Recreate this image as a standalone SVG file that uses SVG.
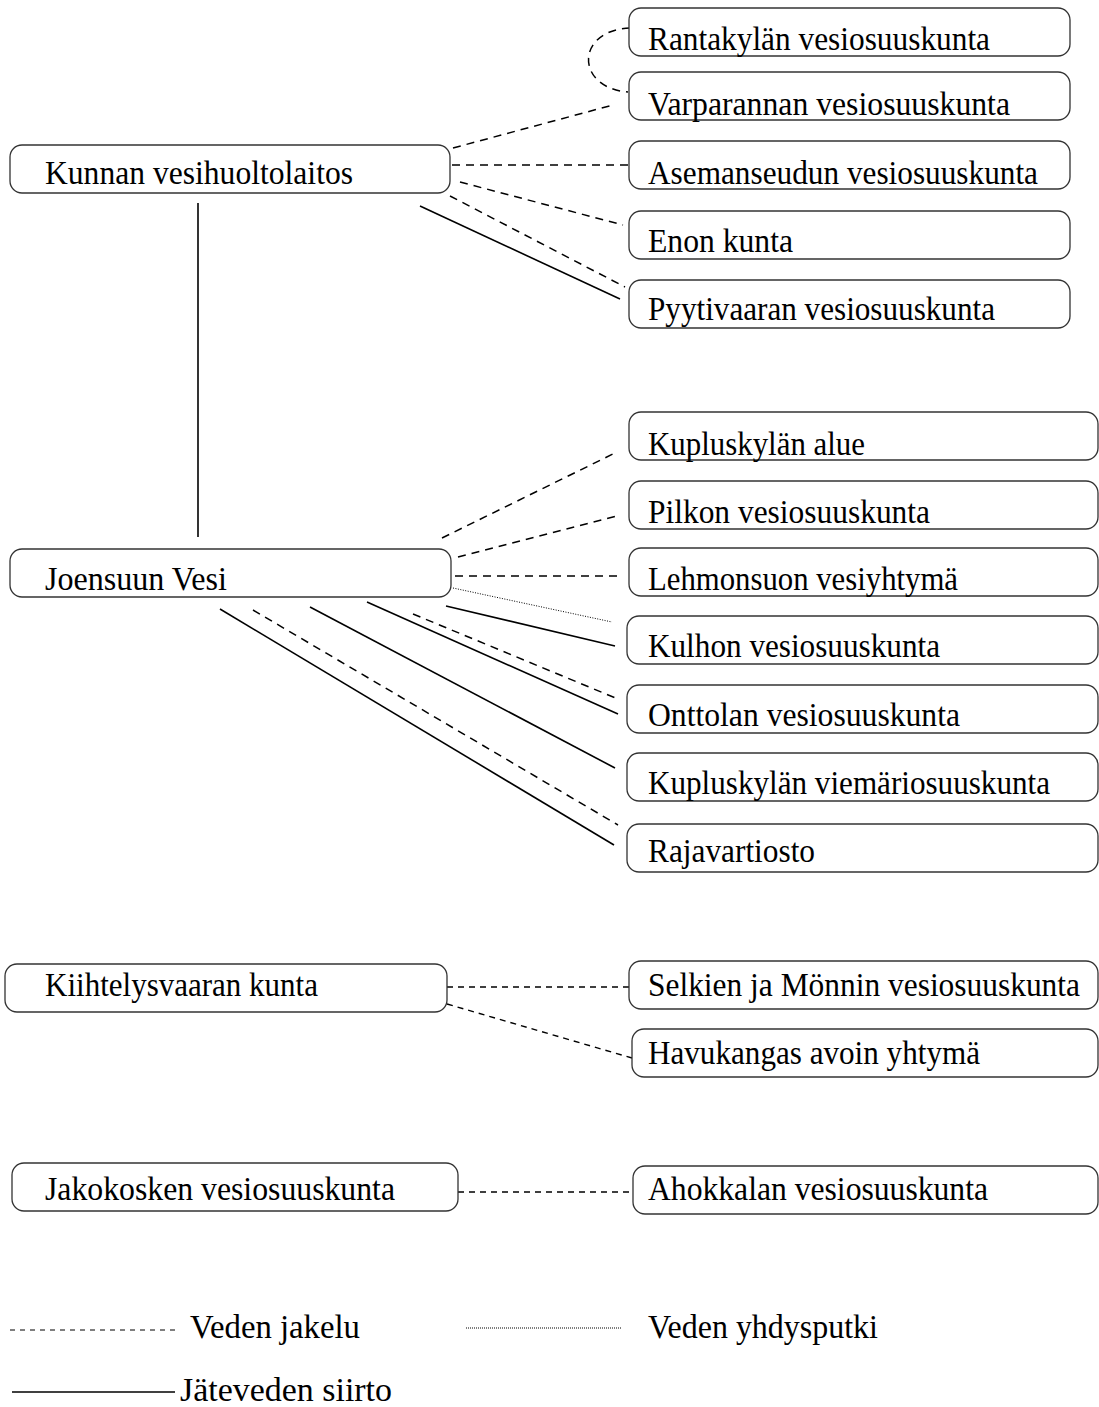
<svg xmlns="http://www.w3.org/2000/svg" width="1099" height="1407" viewBox="0 0 1099 1407">
<style>
.box{fill:#fff;stroke:#333;stroke-width:1.3}
.t{font-family:"Liberation Serif","Times New Roman",serif;font-size:33px;fill:#000}
.sol{stroke:#000;stroke-width:1.6;fill:none}
.dash{stroke:#000;stroke-width:1.5;fill:none;stroke-dasharray:8 6}
.dash2{stroke:#000;stroke-width:1.4;fill:none;stroke-dasharray:6 5}
.dot{stroke:#000;stroke-width:1;fill:none;stroke-dasharray:1 1.5}
</style>
<rect width="1099" height="1407" fill="#fff"/>
<g id="connectors">
<path class="dash" d="M630 28 C575 30 575 88 628 92"/>
<line class="dash" x1="453" y1="148" x2="613" y2="105"/>
<line class="dash" x1="452" y1="165" x2="629" y2="165"/>
<line class="dash" x1="460" y1="182" x2="623" y2="225"/>
<line class="dash" x1="450" y1="196" x2="625" y2="287"/>
<line class="sol" x1="420" y1="206" x2="620" y2="299"/>
<line class="sol" x1="198" y1="203" x2="198" y2="537"/>
<line class="dash" x1="442" y1="538" x2="617" y2="452"/>
<line class="dash" x1="458" y1="557" x2="617" y2="516"/>
<line class="dash" x1="455" y1="576" x2="620" y2="576"/>
<line class="dot" x1="453" y1="588" x2="612" y2="622"/>
<line class="sol" x1="446" y1="606" x2="615" y2="646"/>
<line class="sol" x1="367" y1="602" x2="618" y2="714"/>
<line class="dash" x1="413" y1="614" x2="618" y2="699"/>
<line class="sol" x1="310" y1="607" x2="615" y2="768"/>
<line class="dash" x1="253" y1="610" x2="618" y2="825"/>
<line class="sol" x1="220" y1="609" x2="614" y2="845"/>
<line class="dash2" x1="447" y1="987" x2="629" y2="987"/>
<line class="dash2" x1="447" y1="1004" x2="632" y2="1058"/>
<line class="dash2" x1="458" y1="1192" x2="633" y2="1192"/>
</g>
<g id="n-kunnan"><rect class="box" x="10" y="145" width="440" height="48" rx="12"/><text class="t" x="45" y="184" textLength="308" lengthAdjust="spacingAndGlyphs">Kunnan vesihuoltolaitos</text></g>
<g id="n-rantakyla"><rect class="box" x="629" y="8" width="441" height="48" rx="12"/><text class="t" x="648" y="50" textLength="342" lengthAdjust="spacingAndGlyphs">Rantakylän vesiosuuskunta</text></g>
<g id="n-varparanta"><rect class="box" x="629" y="72" width="441" height="48" rx="12"/><text class="t" x="648" y="115" textLength="362" lengthAdjust="spacingAndGlyphs">Varparannan vesiosuuskunta</text></g>
<g id="n-asemanseutu"><rect class="box" x="629" y="141" width="441" height="48" rx="12"/><text class="t" x="648" y="184" textLength="390" lengthAdjust="spacingAndGlyphs">Asemanseudun vesiosuuskunta</text></g>
<g id="n-eno"><rect class="box" x="629" y="211" width="441" height="48" rx="12"/><text class="t" x="648" y="252" textLength="145" lengthAdjust="spacingAndGlyphs">Enon kunta</text></g>
<g id="n-pyytivaara"><rect class="box" x="629" y="280" width="441" height="48" rx="12"/><text class="t" x="648" y="320" textLength="347" lengthAdjust="spacingAndGlyphs">Pyytivaaran vesiosuuskunta</text></g>
<g id="n-joensuu"><rect class="box" x="10" y="549" width="441" height="48" rx="12"/><text class="t" x="45" y="590" textLength="182" lengthAdjust="spacingAndGlyphs">Joensuun Vesi</text></g>
<g id="n-kupluskyla-alue"><rect class="box" x="629" y="412" width="469" height="48" rx="12"/><text class="t" x="648" y="455" textLength="217" lengthAdjust="spacingAndGlyphs">Kupluskylän alue</text></g>
<g id="n-pilkko"><rect class="box" x="629" y="481" width="469" height="48" rx="12"/><text class="t" x="648" y="523" textLength="282" lengthAdjust="spacingAndGlyphs">Pilkon vesiosuuskunta</text></g>
<g id="n-lehmonsuo"><rect class="box" x="629" y="548" width="469" height="48" rx="12"/><text class="t" x="648" y="590" textLength="310" lengthAdjust="spacingAndGlyphs">Lehmonsuon vesiyhtymä</text></g>
<g id="n-kulho"><rect class="box" x="627" y="616" width="471" height="48" rx="12"/><text class="t" x="648" y="657" textLength="292" lengthAdjust="spacingAndGlyphs">Kulhon vesiosuuskunta</text></g>
<g id="n-onttola"><rect class="box" x="627" y="685" width="471" height="48" rx="12"/><text class="t" x="648" y="726" textLength="312" lengthAdjust="spacingAndGlyphs">Onttolan vesiosuuskunta</text></g>
<g id="n-kupluskyla-viemari"><rect class="box" x="627" y="753" width="471" height="48" rx="12"/><text class="t" x="648" y="794" textLength="402" lengthAdjust="spacingAndGlyphs">Kupluskylän viemäriosuuskunta</text></g>
<g id="n-rajavartiosto"><rect class="box" x="627" y="824" width="471" height="48" rx="12"/><text class="t" x="648" y="862" textLength="167" lengthAdjust="spacingAndGlyphs">Rajavartiosto</text></g>
<g id="n-kiihtelys"><rect class="box" x="5" y="964" width="442" height="48" rx="12"/><text class="t" x="45" y="996" textLength="273" lengthAdjust="spacingAndGlyphs">Kiihtelysvaaran kunta</text></g>
<g id="n-selkie"><rect class="box" x="629" y="961" width="469" height="48" rx="12"/><text class="t" x="648" y="996" textLength="432" lengthAdjust="spacingAndGlyphs">Selkien ja Mönnin vesiosuuskunta</text></g>
<g id="n-havukangas"><rect class="box" x="632" y="1029" width="466" height="48" rx="12"/><text class="t" x="648" y="1064" textLength="332" lengthAdjust="spacingAndGlyphs">Havukangas avoin yhtymä</text></g>
<g id="n-jakokoski"><rect class="box" x="12" y="1163" width="446" height="48" rx="12"/><text class="t" x="45" y="1200" textLength="350" lengthAdjust="spacingAndGlyphs">Jakokosken vesiosuuskunta</text></g>
<g id="n-ahokkala"><rect class="box" x="633" y="1166" width="465" height="48" rx="12"/><text class="t" x="648" y="1200" textLength="340" lengthAdjust="spacingAndGlyphs">Ahokkalan vesiosuuskunta</text></g>
<g id="legend">
<line x1="10" y1="1330" x2="175" y2="1330" stroke="#000" stroke-width="1.2" stroke-dasharray="5 5"/>
<text class="t" x="190" y="1338" textLength="170" lengthAdjust="spacingAndGlyphs">Veden jakelu</text>
<line x1="466" y1="1328" x2="622" y2="1328" stroke="#000" stroke-width="1" stroke-dasharray="1 1"/>
<text class="t" x="648" y="1338" textLength="230" lengthAdjust="spacingAndGlyphs">Veden yhdysputki</text>
<line x1="12" y1="1392" x2="175" y2="1392" stroke="#000" stroke-width="1.3"/>
<text class="t" x="180" y="1401" textLength="212" lengthAdjust="spacingAndGlyphs">Jäteveden siirto</text>
</g>
</svg>
